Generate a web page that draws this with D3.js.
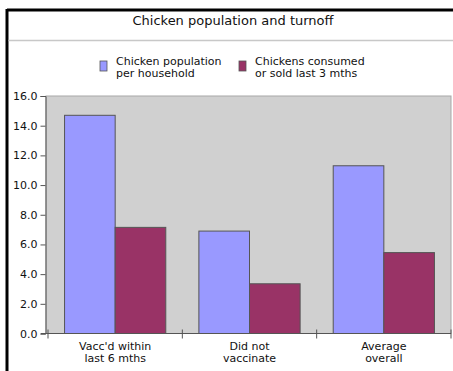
<!DOCTYPE html>
<html>
<head>
<meta charset="utf-8">
<script src="https://cdn.jsdelivr.net/npm/d3@7"></script>
<style>
  html, body { margin: 0; padding: 0; background: #fff; }
  svg { display: block; font-family: "DejaVu Sans", sans-serif; }
</style>
</head>
<body>
<svg id="chart" width="453" height="371"></svg>
<script>
// Chart data
const categories = [["Vacc'd within", "last 6 mths"], ["Did not", "vaccinate"], ["Average", "overall"]];
const seriesNames = [["Chicken population", "per household"], ["Chickens consumed", "or sold last 3 mths"]];
const population = [14.7, 6.9, 11.3];
const consumed = [7.15, 3.35, 5.45];
const yTicks = [0, 2, 4, 6, 8, 10, 12, 14, 16];
const colors = ["#9999ff", "#993366"];

const series = [population, consumed];
const svg = d3.select("#chart");

// Frame: thick black top/left border and title separator
svg.append("line").attr("x1", 7).attr("x2", 453).attr("y1", 10).attr("y2", 10)
  .attr("stroke", "#000").attr("stroke-width", 3);
svg.append("line").attr("x1", 7).attr("x2", 7).attr("y1", 9).attr("y2", 371)
  .attr("stroke", "#000").attr("stroke-width", 3);
svg.append("line").attr("x1", 8.5).attr("x2", 453).attr("y1", 40.5).attr("y2", 40.5)
  .attr("stroke", "#c8c8c8").attr("stroke-width", 1.5);

svg.append("text").attr("x", 233).attr("y", 25).attr("text-anchor", "middle")
  .attr("font-size", 13).attr("fill", "#111").text("Chicken population and turnoff");

// Scales
const plot = { left: 46, right: 451, top: 96, bottom: 333.5 };
const x = d3.scaleBand().domain(d3.range(categories.length))
  .range([48, plot.right]).paddingInner(0).paddingOuter(0);
const inner = d3.scaleBand().domain(d3.range(series.length))
  .range([0, x.bandwidth()]).paddingOuter(0.327).paddingInner(0);
const y = d3.scaleLinear().domain([0, 16]).range([plot.bottom, plot.top]);

// Plot background
svg.append("rect").attr("x", plot.left).attr("y", plot.top)
  .attr("width", plot.right - plot.left).attr("height", plot.bottom - plot.top)
  .attr("fill", "#d0d0d0").attr("stroke", "#a8a8a8").attr("stroke-width", 1);

// Bars
const groups = svg.append("g").selectAll("g").data(categories).join("g")
  .attr("transform", (d, i) => `translate(${x(i)},0)`);
groups.selectAll("rect").data((d, i) => series.map((s, k) => ({ k, v: s[i] }))).join("rect")
  .attr("x", d => inner(d.k))
  .attr("y", d => y(d.v))
  .attr("width", inner.bandwidth())
  .attr("height", d => y(0) - y(d.v))
  .attr("fill", d => colors[d.k])
  .attr("stroke", "#555")
  .attr("stroke-width", 1);

// Y axis
const yAxis = d3.axisLeft(y).tickValues(yTicks).tickFormat(d3.format(".1f"))
  .tickSize(5).tickPadding(3);
const ya = svg.append("g").attr("transform", `translate(${plot.left - 0.5},0)`).call(yAxis);
ya.selectAll("text").attr("font-size", 11).attr("fill", "#111")
  .attr("font-family", "DejaVu Sans, sans-serif");
ya.selectAll("line,path").attr("stroke", "#555");

// X axis with ticks at category boundaries
svg.append("line").attr("x1", plot.left - 5).attr("x2", plot.right)
  .attr("y1", plot.bottom).attr("y2", plot.bottom).attr("stroke", "#555");
const bounds = d3.range(categories.length + 1).map(i => i < categories.length ? x(i) : plot.right);
svg.append("g").selectAll("line").data(bounds).join("line")
  .attr("x1", d => d).attr("x2", d => d)
  .attr("y1", plot.bottom - 4).attr("y2", plot.bottom + 5)
  .attr("stroke", "#555");
const xl = svg.append("g").selectAll("text").data(categories).join("text")
  .attr("x", (d, i) => x(i) + x.bandwidth() / 2)
  .attr("y", 350)
  .attr("text-anchor", "middle").attr("font-size", 11).attr("fill", "#111");
xl.selectAll("tspan").data(d => d).join("tspan")
  .attr("x", function () { return this.parentNode.getAttribute("x"); })
  .attr("dy", (d, j) => j === 0 ? 0 : 12).text(d => d);

// Legend
const legendX = [100, 239];
const lg = svg.append("g").selectAll("g").data(seriesNames).join("g")
  .attr("transform", (d, i) => `translate(${legendX[i]},0)`);
lg.append("rect").attr("x", 0).attr("y", 61).attr("width", 7).attr("height", 10)
  .attr("fill", (d, i) => colors[i]).attr("stroke", "#555").attr("stroke-width", 0.8);
const lt = lg.append("text").attr("x", 16).attr("y", 65).attr("font-size", 11).attr("fill", "#111");
lt.selectAll("tspan").data(d => d).join("tspan")
  .attr("x", 16).attr("dy", (d, j) => j === 0 ? 0 : 12).text(d => d);
</script>
</body>
</html>
